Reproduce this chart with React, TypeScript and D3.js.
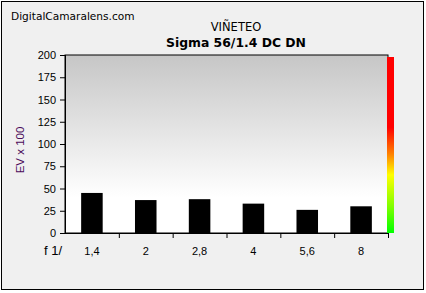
import React from "react";
import * as d3 from "d3";

const categories = ["1,4", "2", "2,8", "4", "5,6", "8"];
const values = [45, 37, 38, 33, 26, 30];
const yTicks = [0, 25, 50, 75, 100, 125, 150, 175, 200];

const W = 426, H = 293;
const M = { left: 65, right: 388, top: 55, bottom: 233 };

export default function App() {
  const x = d3.scaleBand<string>().domain(categories).range([M.left, M.right]).paddingInner(0.6).paddingOuter(0.3);
  const xb = d3.scaleBand<string>().domain(categories).range([M.left, M.right]);
  const y = d3.scaleLinear().domain([0, 200]).range([M.bottom, M.top]);
  const font = "'Liberation Sans', Arial, sans-serif";
  const tfont = "'DejaVu Sans', Verdana, sans-serif";
  return (
    <svg width={W} height={H} style={{ position: "absolute", left: 0, top: 0 }}>
      <defs>
        <linearGradient id="bg" x1="0" y1="0" x2="0" y2="1">
          <stop offset="0" stopColor="#c6c6c6" />
          <stop offset="0.8" stopColor="#ffffff" />
          <stop offset="1" stopColor="#ffffff" />
        </linearGradient>
        <linearGradient id="cb" x1="0" y1="0" x2="0" y2="1">
          <stop offset="0" stopColor="#ff0000" />
          <stop offset="0.4" stopColor="#ff0000" />
          <stop offset="0.55" stopColor="#ff8000" />
          <stop offset="0.67" stopColor="#ffff00" />
          <stop offset="0.85" stopColor="#80ff00" />
          <stop offset="1" stopColor="#00ff00" />
        </linearGradient>
      </defs>
      <rect x={0} y={0} width={W} height={H} fill="#ffffff" />
      <rect x={1.5} y={1.5} width={422} height={288} fill="#f0f0f0" stroke="#000" strokeWidth={1} />
      <text x={11} y={20} fontFamily={tfont} fontSize={10.6} fill="#000">DigitalCamaralens.com</text>
      <text x={236} y={31} textAnchor="middle" fontFamily={tfont} fontSize={11.5} fill="#000">VIÑETEO</text>
      <text x={236} y={47} textAnchor="middle" fontFamily={tfont} fontSize={12.4} fontWeight="bold" fill="#000">Sigma 56/1.4 DC DN</text>
      <rect x={M.left} y={M.top} width={M.right - M.left} height={M.bottom - M.top} fill="url(#bg)" stroke="#000" strokeWidth={1} />
      {values.map((v, i) => (
        <rect key={i} x={x(categories[i])} y={y(v)} width={x.bandwidth()} height={M.bottom - y(v)} fill="#000" />
      ))}
      <rect x={387} y={57} width={7} height={M.bottom - 57} fill="url(#cb)" />
      {yTicks.map((t) => (
        <g key={t}>
          <line x1={M.left - 5} x2={M.left} y1={y(t) + 0.5} y2={y(t) + 0.5} stroke="#000" />
          <text x={56} y={y(t) + 4} textAnchor="end" fontFamily={font} fontSize={11} fill="#000">{t}</text>
        </g>
      ))}
      {categories.map((c, i) => (
        <g key={c}>
          <line x1={xb(c)! + xb.bandwidth() + 0.5} x2={xb(c)! + xb.bandwidth() + 0.5} y1={M.bottom} y2={M.bottom + 5} stroke="#000" />
          <text x={xb(c)! + xb.bandwidth() / 2} y={255} textAnchor="middle" fontFamily={font} fontSize={11} fill="#000">{c}</text>
        </g>
      ))}
      <line x1={M.left} x2={M.right} y1={M.bottom + 0.5} y2={M.bottom + 0.5} stroke="#000" />
      <line x1={M.left + 0.5} x2={M.left + 0.5} y1={M.top} y2={M.bottom} stroke="#000" />
      <text x={44} y={255} fontFamily={font} fontSize={13} fill="#000">f 1/</text>
      <text transform={`translate(24,150) rotate(-90)`} textAnchor="middle" fontFamily={font} fontSize={11.5} fill="#4a0a5a">EV x 100</text>
    </svg>
  );
}
